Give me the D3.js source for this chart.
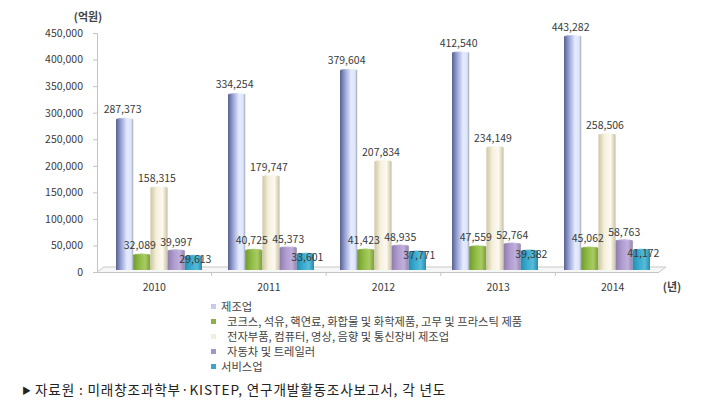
<!DOCTYPE html>
<html><head><meta charset="utf-8">
<script src="https://cdn.jsdelivr.net/npm/d3@7"></script>
<style>
html,body{margin:0;padding:0;background:#fff;}
svg{display:block;font-family:"Noto Sans CJK KR","Noto Sans",sans-serif;}
</style></head>
<body>
<svg id="c" width="704" height="414"></svg>
<script>
const years = ["2010","2011","2012","2013","2014"];
const seriesNames = [
  "제조업",
  "코크스, 석유, 핵연료, 화합물 및 화학제품, 고무 및 프라스틱 제품",
  "전자부품, 컴퓨터, 영상, 음향 및 통신장비 제조업",
  "자동차 및 트레일러",
  "서비스업"
];
const manufacturing = [287373, 334254, 379604, 412540, 443282];
const chemical      = [32089, 40725, 41423, 47559, 45062];
const electronics   = [158315, 179747, 207834, 234149, 258506];
const automobile    = [39997, 45373, 48935, 52764, 58763];
const services      = [29613, 33601, 37771, 39382, 41172];
const seriesValues = [manufacturing, chemical, electronics, automobile, services];
const yTicks = [0, 50000, 100000, 150000, 200000, 250000, 300000, 350000, 400000, 450000];
const yUnit = "(억원)";
const xUnit = "(년)";
const sourceMark = "▶";
const sourceText = "자료원 : 미래창조과학부·KISTEP, 연구개발활동조사보고서, 각 년도";

const svg = d3.select("#c");
const defs = svg.append("defs");
const grads = [
  [["0%","#56608f"],["30%","#9aa5d6"],["65%","#e6ecff"],["88%","#dfe5f8"],["100%","#9ea3b6"]],
  [["0%","#6f9a2e"],["35%","#8fba45"],["70%","#a8cc62"],["100%","#7a9c3c"]],
  [["0%","#cfc6a4"],["35%","#f5f0dc"],["70%","#fcfaf0"],["100%","#c9c1a0"]],
  [["0%","#8e7bb0"],["35%","#ad9bcd"],["70%","#c0b0dc"],["100%","#9485ad"]],
  [["0%","#1f8fb2"],["35%","#3aaacc"],["70%","#55bcda"],["100%","#2a8aa8"]]
];
const legendColors = ["#c9c9ee","#8bb04a","#f3eedc","#a695c6","#3aa7c8"];
grads.forEach((g,i)=>{
  const lg = defs.append("linearGradient").attr("id","g"+i).attr("x1","0").attr("x2","1").attr("y1","0").attr("y2","0");
  g.forEach(s=>lg.append("stop").attr("offset",s[0]).attr("stop-color",s[1]));
});

const y = d3.scaleLinear().domain([0,450000]).range([272,33]);
const xLab = d3.scaleBand().domain(years).range([97,670]);
const x0 = d3.scaleBand().domain(years).range([104,664]);
const x1 = d3.scaleBand().domain(d3.range(5)).range([12,98]);
const barBase = 270;
const textColor = "#3a3a3a";

// y axis
const yAxis = d3.axisLeft(y).tickValues(yTicks).tickFormat(d3.format(",")).tickSize(4).tickPadding(10);
const ya = svg.append("g").attr("transform","translate(97,0)").call(yAxis);
ya.select(".domain").attr("stroke","#c4c4c4");
ya.selectAll(".tick line").attr("stroke","#c4c4c4");
ya.selectAll(".tick text").attr("fill",textColor).attr("font-size","10.5px").style("font-family","'Noto Sans CJK KR'");

svg.append("text").attr("x",88).attr("y",21).attr("text-anchor","middle")
  .attr("font-size","11px").attr("font-weight","bold").attr("fill","#444").text(yUnit);

// floor
svg.append("path")
  .attr("d",`M97,272 L104,267 L666,267 L659,272`)
  .attr("fill","#f6f6f6").attr("stroke","#c8c8c8").attr("stroke-width",1);
svg.append("line").attr("x1",93).attr("x2",659).attr("y1",272.5).attr("y2",272.5).attr("stroke","#c4c4c4");

// x ticks at boundaries
svg.append("g").selectAll("line").data(years.slice(1)).join("line")
  .attr("x1",d=>xLab(d)).attr("x2",d=>xLab(d)).attr("y1",273).attr("y2",276).attr("stroke","#c4c4c4");

// x labels
svg.append("g").selectAll("text").data(years).join("text")
  .attr("x",d=>xLab(d)+xLab.bandwidth()/2).attr("y",291).attr("text-anchor","middle")
  .attr("font-size","10.5px").attr("fill",textColor).text(d=>d);
svg.append("text").attr("x",672).attr("y",291).attr("text-anchor","middle")
  .attr("font-size","11px").attr("font-weight","bold").attr("fill","#444").text(xUnit);

// bars
const labelDy = [-6,-6,-6,-5,7];
const labelDx = [-2,-2,-2,0,2];
seriesValues.forEach((vals,si)=>{
  const g = svg.append("g");
  years.forEach((yr,yi)=>{
    const v = vals[yi];
    const bx = x0(yr)+x1(si);
    const bw = x1.bandwidth();
    const top = y(v);
    g.append("rect").attr("x",bx).attr("y",top).attr("width",bw).attr("height",barBase-top)
      .attr("fill",`url(#g${si})`);
    g.append("ellipse").attr("cx",bx+bw/2).attr("cy",top).attr("rx",bw/2).attr("ry",1.5)
      .attr("fill",`url(#g${si})`).attr("opacity",0.9);
  });
});
// labels on top
seriesValues.forEach((vals,si)=>{
  svg.append("g").selectAll("text").data(years).join("text")
    .attr("x",(d)=>x0(d)+x1(si)+x1.bandwidth()/2+labelDx[si])
    .attr("y",(d,i)=>y(vals[i])+labelDy[si])
    .attr("text-anchor","middle").attr("font-size","10.5px").attr("fill",textColor)
    .text((d,i)=>d3.format(",")(vals[i]));
});

// legend
const legX = 213, legY0 = 307, legStep = 15;
const textOff = [8,14,14,14,8];
const leg = svg.append("g");
seriesNames.forEach((n,i)=>{
  leg.append("rect").attr("x",legX-2).attr("y",legY0+i*legStep-3).attr("width",5).attr("height",5).attr("fill",legendColors[i]);
  leg.append("text").attr("x",legX+textOff[i]).attr("y",legY0+i*legStep+4)
    .attr("font-size","11.3px").attr("fill","#444").text(n);
});

// source
svg.append("text").attr("x",22).attr("y",394).attr("font-size","9px").attr("fill","#222").text(sourceMark);
svg.append("text").attr("x",35).attr("y",395).attr("font-size","13.6px").attr("letter-spacing","0.85px")
  .attr("fill","#222").text(sourceText);
</script>
</body></html>
